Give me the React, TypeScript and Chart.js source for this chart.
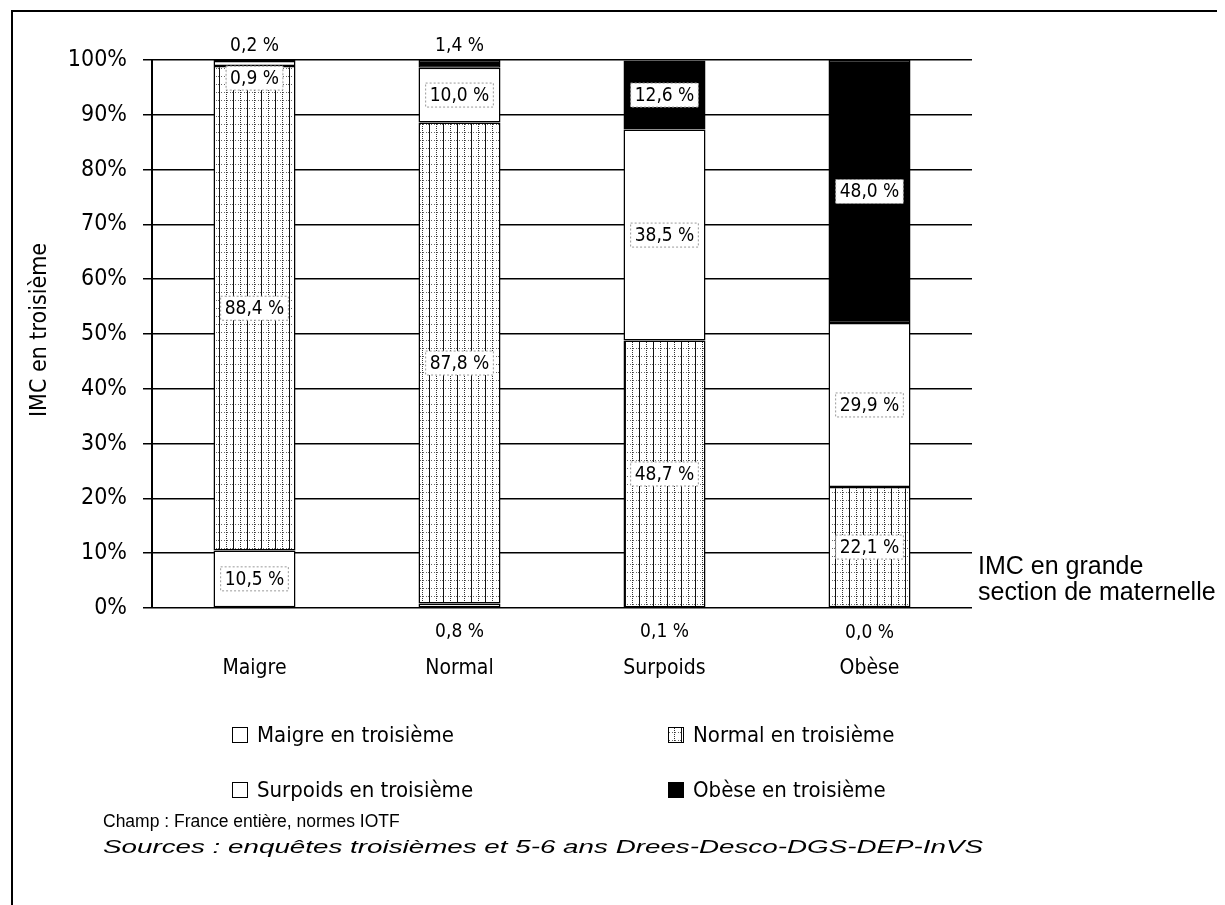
import React, { useEffect, useRef } from "react";
import { Chart, registerables } from "chart.js";

Chart.register(...registerables);

const categories = ["Maigre", "Normal", "Surpoids", "Obèse"];
const seriesLabels = [
  "Maigre en troisième",
  "Normal en troisième",
  "Surpoids en troisième",
  "Obèse en troisième",
];
const maigreValues = [10.5, 0.8, 0.1, 0.0];
const normalValues = [88.4, 87.8, 48.7, 22.1];
const surpoidsValues = [0.9, 10.0, 38.5, 29.9];
const obeseValues = [0.2, 1.4, 12.6, 48.0];
const yTicks = [0, 10, 20, 30, 40, 50, 60, 70, 80, 90, 100];

const NARROW = "'Liberation Sans Narrow', 'DejaVu Sans Condensed', 'Liberation Sans', sans-serif";
const SANS = "'Liberation Sans', Arial, sans-serif";

function makePattern(): CanvasPattern | string {
  const c = document.createElement("canvas");
  c.width = 14;
  c.height = 8;
  const g = c.getContext("2d");
  if (!g) return "#ccc";
  g.fillStyle = "#fff";
  g.fillRect(0, 0, 14, 8);
  g.fillStyle = "#111";
  for (let y = 0; y < 8; y++) g.fillRect(1, y, 1, 1);
  g.fillStyle = "#333";
  for (let y = 0; y < 8; y += 2) g.fillRect(8, y, 1, 1);
  g.fillStyle = "#666";
  for (let x = 0; x < 14; x += 3) g.fillRect(x, 4, 1, 1);
  const ctx = document.createElement("canvas").getContext("2d");
  return ctx ? (ctx.createPattern(c, "repeat") as CanvasPattern) : "#ccc";
}

const fmt = (v: number) => v.toFixed(1).replace(".", ",") + " %";

export default function App() {
  const ref = useRef<HTMLCanvasElement | null>(null);

  useEffect(() => {
    if (!ref.current) return;
    const pattern = makePattern();
    const fills = ["#ffffff", pattern, "#ffffff", "#000000"];
    const allValues = [maigreValues, normalValues, surpoidsValues, obeseValues];

    const drawPlugin = {
      id: "custom",
      afterDatasetsDraw(chart: any) {
        const ctx = chart.ctx as CanvasRenderingContext2D;
        ctx.save();
        ctx.font = `19px ${NARROW}`;
        ctx.textAlign = "center";
        ctx.textBaseline = "middle";
        chart.data.datasets.forEach((ds: any, i: number) => {
          const meta = chart.getDatasetMeta(i);
          meta.data.forEach((bar: any, j: number) => {
            const v = ds.data[j] as number;
            const top = Math.min(bar.y, bar.base);
            const bottom = Math.max(bar.y, bar.base);
            let y: number;
            let boxed = true;
            if (v >= 5) {
              y = (top + bottom) / 2;
            } else if (i === 0) {
              y = bottom + 24;
              boxed = false;
            } else if (i === 3) {
              y = top - 15;
              boxed = false;
            } else {
              y = top + 17;
            }
            const text = fmt(v);
            const w = ctx.measureText(text).width;
            if (boxed) {
              ctx.fillStyle = "#fff";
              ctx.fillRect(bar.x - w / 2 - 4, y - 12, w + 8, 24);
              ctx.setLineDash([2, 2]);
              ctx.strokeStyle = "#999";
              ctx.lineWidth = 1;
              ctx.strokeRect(bar.x - w / 2 - 4, y - 12, w + 8, 24);
              ctx.setLineDash([]);
            }
            ctx.fillStyle = "#000";
            ctx.fillText(text, bar.x, y + 1);
          });
        });
        ctx.restore();
      },
      afterDraw(chart: any) {
        const ctx = chart.ctx as CanvasRenderingContext2D;
        ctx.save();
        // frame
        ctx.strokeStyle = "#000";
        ctx.lineWidth = 2;
        ctx.beginPath();
        ctx.moveTo(4, 900);
        ctx.lineTo(4, 3);
        ctx.lineTo(1217, 3);
        ctx.stroke();

        // y title
        ctx.save();
        ctx.translate(32, 322);
        ctx.rotate(-Math.PI / 2);
        ctx.font = `23px ${NARROW}`;
        ctx.fillStyle = "#000";
        ctx.textAlign = "center";
        ctx.textBaseline = "middle";
        ctx.fillText("IMC en troisième", 0, 0);
        ctx.restore();

        // right label
        ctx.font = `25px ${SANS}`;
        ctx.fillStyle = "#000";
        ctx.textAlign = "left";
        ctx.textBaseline = "middle";
        ctx.fillText("IMC en grande", 970, 559);
        ctx.fillText("section de maternelle", 970, 585);

        // legend
        const pos = [
          [224, 727],
          [660, 727],
          [224, 782],
          [660, 782],
        ];
        chart.data.datasets.forEach((ds: any, i: number) => {
          const [bx, by] = pos[i];
          ctx.fillStyle = fills[i] as any;
          ctx.fillRect(bx, by - 8, 16, 16);
          ctx.strokeStyle = "#000";
          ctx.lineWidth = 1;
          ctx.strokeRect(bx + 0.5, by - 7.5, 15, 15);
          ctx.fillStyle = "#000";
          ctx.font = `22px ${NARROW}`;
          ctx.textAlign = "left";
          ctx.textBaseline = "middle";
          ctx.fillText(ds.label, bx + 25, by + 1);
        });

        // footnotes
        ctx.font = `17.5px ${SANS}`;
        ctx.fillText("Champ : France entière, normes IOTF", 95, 814);
        ctx.font = `italic 18px ${SANS}`;
        const src = "Sources : enquêtes troisièmes et 5-6 ans Drees-Desco-DGS-DEP-InVS";
        const sw = ctx.measureText(src).width;
        ctx.save();
        ctx.translate(95, 840);
        ctx.scale(880 / sw, 1);
        ctx.fillText(src, 0, 0);
        ctx.restore();
        ctx.restore();
      },
    };

    const chart = new Chart(ref.current, {
      type: "bar",
      data: {
        labels: categories,
        datasets: seriesLabels.map((label, i) => ({
          label,
          data: allValues[i],
          backgroundColor: fills[i] as any,
          borderColor: "#000",
          borderWidth: 1.5,
          borderSkipped: false,
          barPercentage: 0.4,
          categoryPercentage: 1,
        })),
      },
      options: {
        animation: false,
        responsive: false,
        devicePixelRatio: 1,
        layout: { padding: { top: 52, right: 253, left: 0, bottom: 0 } },
        plugins: { legend: { display: false }, tooltip: { enabled: false } },
        scales: {
          x: {
            stacked: true,
            grid: { display: false },
            border: { display: false },
            ticks: {
              color: "#000",
              font: { family: NARROW, size: 21 },
              padding: 40,
            },
            afterFit: (s: any) => {
              s.height = 297;
            },
          },
          y: {
            stacked: true,
            min: 0,
            max: 100,
            afterBuildTicks: (s: any) => {
              s.ticks = yTicks.map((v) => ({ value: v }));
            },
            ticks: {
              color: "#000",
              font: { family: NARROW, size: 23 },
              padding: 16,
              callback: (v: any) => v + "%",
            },
            grid: { color: "#000", lineWidth: 1.5, tickLength: 9, drawTicks: true },
            border: { display: true, color: "#000", width: 2 },
            afterFit: (s: any) => {
              s.width = 144;
            },
          },
        },
      },
      plugins: [drawPlugin],
    });
    return () => chart.destroy();
  }, []);

  return <canvas ref={ref} width={1217} height={897} style={{ display: "block", width: 1217, height: 897 }} />;
}
